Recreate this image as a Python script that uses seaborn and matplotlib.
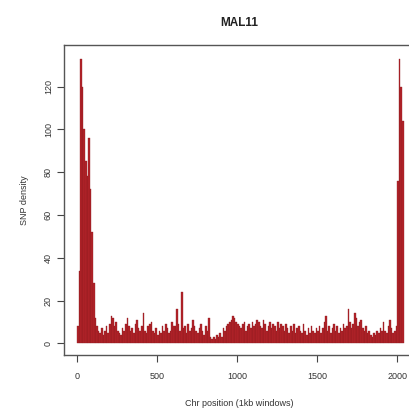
import numpy as np
import pandas as pd
import seaborn as sns
import matplotlib.pyplot as plt

# SNP density per 10 kb window along MAL11
window_kb = np.arange(0, 2040, 10)
snp_density = [
    8, 34, 133, 120, 100, 85, 78, 96, 72, 52,
    28, 12, 8, 6, 5, 7, 4, 6, 8, 5,
    9, 13, 12, 8, 10, 6, 5, 4, 7, 6,
    9, 12, 8, 6, 7, 5, 9, 11, 7, 6,
    8, 14, 6, 5, 8, 9, 10, 6, 5, 7,
    4, 6, 5, 8, 6, 9, 7, 5, 6, 10,
    8, 8, 16, 9, 6, 24, 7, 8, 5, 9,
    6, 7, 11, 8, 6, 5, 7, 9, 6, 4,
    8, 6, 12, 3, 2, 3, 2, 4, 3, 5,
    3, 7, 6, 8, 9, 10, 11, 13, 12, 10,
    9, 8, 7, 9, 10, 6, 8, 9, 7, 10,
    8, 9, 11, 10, 8, 7, 11, 9, 6, 8,
    10, 7, 9, 8, 6, 10, 7, 9, 8, 6,
    9, 7, 5, 8, 6, 9, 5, 7, 8, 6,
    5, 9, 6, 4, 7, 5, 8, 6, 5, 7,
    6, 8, 5, 7, 10, 13, 6, 8, 5, 7,
    9, 6, 8, 5, 7, 6, 9, 7, 8, 16,
    10, 7, 9, 14, 12, 8, 10, 11, 7, 6,
    8, 5, 6, 4, 3, 5, 4, 6, 5, 7,
    6, 10, 6, 5, 8, 11, 7, 5, 6, 8,
    76, 133, 120, 104,
]
x_ticks = [0, 500, 1000, 1500, 2000]
y_ticks = [0, 20, 40, 60, 80, 100, 120]

df = pd.DataFrame({"pos": window_kb + 5, "snps": snp_density})

sns.set_theme(style="white")
plt.rcParams['font.family'] = ['Liberation Sans', 'DejaVu Sans']

fig = plt.figure(figsize=(4.09, 4.19), dpi=100)
# plot box runs slightly past the right edge, as in the cropped original
ax = fig.add_axes([64 / 409, 1 - 355 / 419, 351 / 409, 310 / 419])

sns.histplot(data=df, x="pos", weights="snps", binwidth=10, binrange=(0, 2040),
             color="#b3232a", alpha=1, edgecolor="#8c1a1e", linewidth=0.25, ax=ax)

ax.set_xlim(-81, 2111)
ax.set_ylim(-5.4, 139.4)
ax.set_xticks(x_ticks)
ax.set_xticklabels([str(t) for t in x_ticks], fontsize=6.5, color="#333333")
ax.set_yticks(y_ticks)
ax.set_yticklabels([str(t) for t in y_ticks], fontsize=6.5, color="#333333",
                   rotation=90, va="center")
ax.tick_params(axis="both", direction="out", length=5, width=0.8, color="#444444",
               bottom=True, left=True)
ax.tick_params(axis="x", pad=7)
ax.tick_params(axis="y", pad=3)
for s in ax.spines.values():
    s.set_color("#555555")
    s.set_linewidth(1.0)

ax.set_xlabel("Chr position (1kb windows)", fontsize=6.5, color="#333333", labelpad=13)
ax.set_ylabel("SNP density", fontsize=6.5, color="#333333", labelpad=11)
ax.set_title("MAL11", fontsize=8.5, fontweight="bold", color="#222222", pad=14)

fig.savefig("out.png", dpi=100)
plt.close(fig)
